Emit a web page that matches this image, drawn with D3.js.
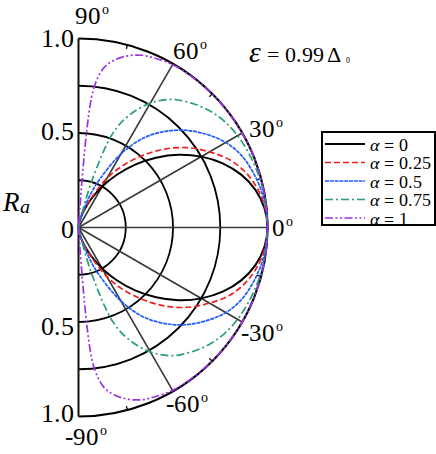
<!DOCTYPE html>
<html>
<head>
<meta charset="utf-8">
<script src="https://cdn.jsdelivr.net/npm/d3@7"></script>
<style>
	@font-face { font-family: 'PlotSerif'; src: local('Liberation Serif'), local('LiberationSerif'), local('Times New Roman'); font-style: normal; }
	@font-face { font-family: 'PlotSerif'; src: local('Liberation Serif Italic'), local('LiberationSerif-Italic'); font-style: italic; }
	text { font-family: 'PlotSerif', 'Liberation Serif', serif; }
</style>
</head>
<body style="margin:0">
<script>
// incidence angle (deg) and Andreev reflection R_a, upper half (curves are even in angle)
const angles = [0, 6, 12, 18, 24, 30, 36, 42, 48, 54, 60, 66, 70, 74, 78, 81, 84, 85, 90];
const ra0   = [1, 0.989, 0.957, 0.905, 0.835, 0.75, 0.655, 0.552, 0.448, 0.345, 0.25, 0.165, 0.117, 0.076, 0.043, 0.024, 0.011, 0.008, 0];
const ra025 = [1, 0.992, 0.970, 0.933, 0.878, 0.800, 0.718, 0.622, 0.516, 0.410, 0.300, 0.180, 0.125, 0.080, 0.045, 0.025, 0.011, 0.008, 0];
const ra05  = [1, 0.996, 0.985, 0.967, 0.942, 0.900, 0.838, 0.768, 0.684, 0.585, 0.450, 0.285, 0.190, 0.090, 0.045, 0.025, 0.012, 0.008, 0];
const ra075 = [1, 0.999, 0.996, 0.990, 0.982, 0.972, 0.955, 0.927, 0.887, 0.838, 0.760, 0.645, 0.530, 0.260, 0.040, 0.020, 0.010, 0.008, 0];
const ra1   = [1, 1, 1, 1, 1, 1, 1, 1, 0.999, 0.998, 0.995, 0.982, 0.970, 0.945, 0.905, 0.855, 0.720, 0, 0];

const alphaNames = ['0', '0.25', '0.5', '0.75', '1'];
const gridRadii = [0.25, 0.5, 0.75, 1];
const spokeAngles = [-60, -30, 0, 30, 60];
const minorTickAngles = [-75, -45, -15, 15, 45, 75];
const angleTicks = [90, 60, 30, 0, -30, -60, -90];
const angleTickLabels = ['90', '60', '30', '0', '-30', '-60', '-90'];
const radialTicks = [1, 0.5, 0, -0.5, -1];
const radialTickLabels = ['1.0', '0.5', '0', '0.5', '1.0'];

const width = 436, height = 454;
const cx = 78.5, cy = 227.5, R = 189;

let svg = d3.select('body').append('svg')
	.attr('width', width)
	.attr('height', height);

let label = (sel, size) => sel.attr('font-size', size);

let r = d3.scaleLinear().domain([0, 1]).range([0, R]);
// polar angle (deg, 0 = right, ccw) -> d3 radial angle (rad, cw from top)
let a = d3.scaleLinear().domain([-90, 90]).range([Math.PI, 0]);
let px = (deg, v) => r(v) * Math.sin(a(deg));
let py = (deg, v) => -r(v) * Math.cos(a(deg));

let g = svg.append('g').attr('transform', `translate(${cx},${cy})`);

// grid semicircles
g.selectAll('path.grid')
	.data(gridRadii)
	.enter().append('path')
	.attr('class', 'grid')
	.attr('d', d => {
		let p = d3.path();
		p.moveTo(0, -r(d));
		p.arc(0, 0, r(d), -Math.PI / 2, Math.PI / 2);
		return p.toString();
	})
	.style('fill', 'none')
	.style('stroke', '#000')
	.style('stroke-width', d => d === 1 ? 2.2 : 1.8);

// spokes
g.selectAll('line.spoke')
	.data(spokeAngles)
	.enter().append('line')
	.attr('class', 'spoke')
	.attr('x1', 0).attr('y1', 0)
	.attr('x2', d => px(d, 1))
	.attr('y2', d => py(d, 1))
	.style('stroke', '#383838')
	.style('stroke-width', 1.6);

// small ticks on the rim
g.selectAll('line.minor')
	.data(minorTickAngles)
	.enter().append('line')
	.attr('x1', d => px(d, 1))
	.attr('y1', d => py(d, 1))
	.attr('x2', d => px(d, 1 - 4 / R))
	.attr('y2', d => py(d, 1 - 4 / R))
	.style('stroke', '#000')
	.style('stroke-width', 1.3);

// left axis
g.append('line')
	.attr('x1', 0).attr('y1', py(90, 1))
	.attr('x2', 0).attr('y2', py(-90, 1))
	.style('stroke', '#111')
	.style('stroke-width', 2);

// curves
let series = [ra0, ra025, ra05, ra075, ra1];
let colors = ['#000000', '#f01e1e', '#1f5cff', '#2a9d78', '#9a32e6'];
let dashes = [null, '6,3', '4,0.8', '8,3,2,3', '8,2.5,2,2.5,2,2.5'];
let widths = [2, 1.7, 1.7, 1.7, 1.7];

let radial = d3.lineRadial()
	.angle(d => a(d[0]))
	.radius(d => r(d[1]))
	.curve(d3.curveCatmullRom.alpha(0.5));

let curves = series.map(vals => {
	let pts = angles.map((t, i) => [t, vals[i]]);
	return pts.slice().reverse().map(d => [-d[0], d[1]]).concat(pts.slice(1));
});

g.selectAll('path.curve')
	.data(curves)
	.enter().append('path')
	.attr('class', 'curve')
	.attr('d', radial)
	.style('fill', 'none')
	.style('stroke', (d, i) => colors[i])
	.style('stroke-width', (d, i) => widths[i])
	.style('stroke-dasharray', (d, i) => dashes[i]);

// radial tick labels on the left
let rNudge = [8.5, 7, 10.5, 13, 5];
svg.selectAll('text.rtick')
	.data(radialTicks)
	.enter().append('text')
	.call(label, 26)
	.attr('x', cx - 5)
	.attr('y', (d, i) => cy - r(d) + rNudge[i])
	.attr('text-anchor', 'end')
	.text((d, i) => radialTickLabels[i]);

// angle labels
let aNudge = [[-3.5, -14.5], [0, -5], [7, 3.5], [4.5, 8.5], [-1.5, 19], [-7, 21], [-13.5, 28.5]];
let at = svg.selectAll('text.atick')
	.data(angleTicks)
	.enter().append('text')
	.call(label, 25)
	.attr('x', (d, i) => cx + px(d, 1) + aNudge[i][0])
	.attr('y', (d, i) => cy + py(d, 1) + aNudge[i][1]);
at.append('tspan').text((d, i) => angleTickLabels[i]);
at.append('tspan')
	.attr('dx', 1)
	.attr('dy', -10)
	.attr('font-size', 14)
	.text('o');

// R_a
let ylab = svg.append('text')
	.call(label, 27)
	.attr('x', 3)
	.attr('y', 211)
	.attr('font-style', 'italic');
ylab.append('tspan').text('R');
ylab.append('tspan')
	.attr('dy', 2)
	.attr('font-size', 20)
	.text('a');

// epsilon annotation
svg.append('text').call(label, 30)
	.attr('x', 249).attr('y', 62)
	.attr('font-style', 'italic')
	.text('ε');
svg.append('text').call(label, 22)
	.attr('x', 267).attr('y', 62)
	.text('= 0.99');
svg.append('text').call(label, 22)
	.attr('x', 327).attr('y', 62)
	.text('Δ');
svg.append('text').call(label, 8)
	.attr('x', 346).attr('y', 63)
	.text('0');

// legend
let lx = 322, ly = 132, lw = 113, lh = 93;
let legend = svg.append('g');
legend.append('rect')
	.attr('x', lx).attr('y', ly)
	.attr('width', lw).attr('height', lh)
	.style('fill', '#fff')
	.style('stroke', '#000')
	.style('stroke-width', 2);

let rowY = i => 144 + i * 18.5;
legend.selectAll('line.key')
	.data(alphaNames)
	.enter().append('line')
	.attr('x1', lx + 3).attr('x2', lx + 43)
	.attr('y1', (d, i) => rowY(i))
	.attr('y2', (d, i) => rowY(i))
	.style('stroke', (d, i) => colors[i])
	.style('stroke-width', (d, i) => widths[i])
	.style('stroke-dasharray', (d, i) => dashes[i]);

let lt = legend.selectAll('text.key')
	.data(alphaNames)
	.enter().append('text')
	.call(label, 18)
	.attr('x', lx + 48)
	.attr('y', (d, i) => rowY(i) + 6.5);
lt.append('tspan').attr('font-style', 'italic').text('α');
lt.append('tspan').text(d => ' = ' + d);
</script>
</body>
</html>
